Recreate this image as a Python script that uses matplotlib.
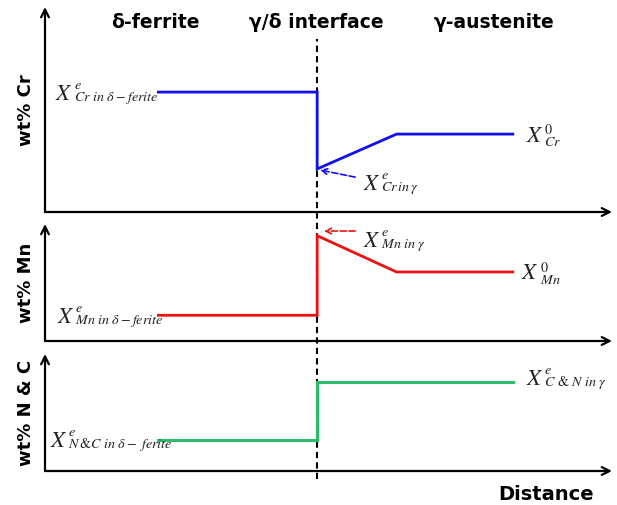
import matplotlib.pyplot as plt

plt.rcParams['mathtext.fontset'] = 'stix'
plt.rcParams['font.family'] = ['DejaVu Sans']

# distance positions (0..100 along the x axis)
x_start = 20
x_iface = 48
x_knee = 62
x_end = 82.5

# concentration profiles (0..100 of each panel height)
cr_x = [x_start, x_iface, x_iface, x_knee, x_end]
cr_y = [58.5, 58.5, 21, 38, 38]
mn_x = [x_start, x_iface, x_iface, x_knee, x_end]
mn_y = [22, 22, 90, 59, 59]
nc_x = [x_start, x_iface, x_iface, x_end]
nc_y = [26.5, 26.5, 76, 76]

regions = ['δ-ferrite', 'γ/δ interface', 'γ-austenite']
region_x = [155, 316, 494]

W, H = 617, 506
fig = plt.figure(figsize=(W / 100, H / 100), dpi=100)

# interface dashed line across all panels (drawn first, underneath)
bg = fig.add_axes([45 / W, 0, 567 / W, 1])
bg.set_xlim(0, 100)
bg.axis('off')
bg.axvline(x_iface, ymin=(H - 480) / H, ymax=(H - 40) / H, color='black',
           ls=(0, (3, 2)), lw=1.5)


def make_ax(top_px, bottom_px, ylabel, ylab_y):
    ax = fig.add_axes([45 / W, (H - bottom_px) / H, 567 / W, (bottom_px - top_px) / H])
    ax.set_xlim(0, 100)
    ax.set_ylim(0, 100)
    ax.axis('off')
    ax.patch.set_alpha(0)
    ax.annotate('', xy=(0, 1), xytext=(0, 0), xycoords='axes fraction',
                arrowprops=dict(arrowstyle='->', color='black', lw=1.6,
                                shrinkA=0, shrinkB=0, mutation_scale=14))
    ax.annotate('', xy=(1, 0), xytext=(0, 0), xycoords='axes fraction',
                arrowprops=dict(arrowstyle='->', color='black', lw=1.6,
                                shrinkA=0, shrinkB=0, mutation_scale=14))
    fig.text(26 / W, 1 - ylab_y / H, ylabel, rotation=90, ha='center', va='center',
             fontsize=13, fontweight='bold')
    return ax


def xlabel_math(ax, x, y, sup, sub):
    # big italic X followed by a stacked superscript / subscript
    t = ax.text(x, y, r'$X$', ha='left', va='center', fontsize=16.5, color='#222222')
    ax.annotate(r'$^{%s}_{%s}$' % (sup, sub), xy=(1, 0.5), xycoords=t,
                xytext=(0.5, -1), textcoords='offset points',
                ha='left', va='center', fontsize=14.5, color='#222222')


ax1 = make_ax(8, 213, 'wt% Cr', 110)
ax2 = make_ax(225, 342, 'wt% Mn', 283)
ax3 = make_ax(355, 472, 'wt% N & C', 413)

blue = '#1010ee'
red = '#ee1111'
green = '#2dbb6c'

ax1.plot(cr_x, cr_y, color=blue, lw=2, solid_joinstyle='miter')
xlabel_math(ax1, 1.8, cr_y[0], 'e', r'Cr\ in\ \delta-ferite')
xlabel_math(ax1, 84.8, cr_y[-1], '0', 'Cr')
xlabel_math(ax1, 56, 14.6, 'e', r'Cr\,in\,\gamma')
ax1.annotate('', xy=(x_iface + 0.5, cr_y[2] - 0.5), xytext=(54.7, 17),
             arrowprops=dict(arrowstyle='->', color=blue, lw=1.2, ls='--', shrinkA=0, shrinkB=0))

ax2.plot(mn_x, mn_y, color=red, lw=2, solid_joinstyle='miter')
xlabel_math(ax2, 2.1, mn_y[0], 'e', r'Mn\ in\ \delta-ferite')
xlabel_math(ax2, 84, mn_y[-1], '0', 'Mn')
xlabel_math(ax2, 56, 87, 'e', r'Mn\ in\ \gamma')
ax2.annotate('', xy=(x_iface + 1.2, 94), xytext=(54.7, 94),
             arrowprops=dict(arrowstyle='->', color=red, lw=1.2, ls='--', shrinkA=0, shrinkB=0))

ax3.plot(nc_x, nc_y, color=green, lw=2.2, solid_joinstyle='miter')
xlabel_math(ax3, 0.9, nc_y[0], 'e', r'N\,&C\ in\ \delta-\ ferite')
xlabel_math(ax3, 84.8, 80, 'e', r'C\ &\ N\ in\ \gamma')

for name, px in zip(regions, region_x):
    fig.text(px / W, 1 - 22 / H, name, ha='center', va='center', fontsize=13.5, fontweight='bold')

fig.text(594 / W, 1 - 495 / H, 'Distance', ha='right', va='center', fontsize=14, fontweight='bold')

fig.savefig('out.png', dpi=100)
